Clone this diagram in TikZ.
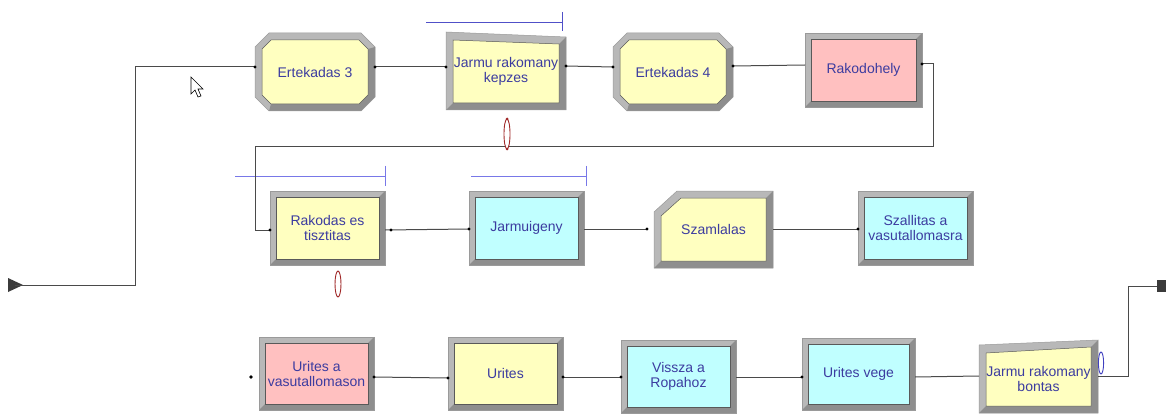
\documentclass[tikz,border=0pt]{standalone}
\usepackage{fontspec}
\setmainfont{Liberation Sans}
\usetikzlibrary{calc}
\definecolor{byellow}{HTML}{FFFFC0}
\definecolor{bpink}{HTML}{FFC0C0}
\definecolor{bcyan}{HTML}{C0FFFF}
\definecolor{txtblue}{HTML}{3C3CA0}
\definecolor{bevL}{HTML}{B8B8B8}
\definecolor{bevD}{HTML}{8E8E8E}
\definecolor{bevO}{HTML}{9A9A9A}
\definecolor{connc}{HTML}{4A4A4A}
\definecolor{qblue}{HTML}{5050C8}
\definecolor{qblueL}{HTML}{7878E8}
\definecolor{ovred}{HTML}{A02828}
\definecolor{ovblue}{HTML}{4040C0}
\tikzset{
 lbl/.style={inner sep=0pt, outer sep=0pt, align=center, text=txtblue, font=\fontsize{14}{15}\selectfont},
 conn/.style={draw=connc, line width=1pt},
 queue/.style={draw=qblue, line width=1pt},
 queueL/.style={draw=qblueL, line width=1pt},
 outline/.style={draw=bevO, line width=0.5pt},
 innerline/.style={draw=gray!70!black, line width=0.5pt},
}
% rectangle block: name x1 y1 x2 y2 fill text
\newcommand{\arRect}[7]{%
 \fill[bevL] (#2,#3) rectangle (#4,#5);
 \fill[bevD] (#2,#5) -- (#4,#5) -- (#4,#3) -- ({#4-6},{#3+6}) -- ({#4-6},{#5-6}) -- ({#2+6},{#5-6}) -- cycle;
 \draw[outline] (#2,#3) rectangle (#4,#5);
 \filldraw[fill=#6, innerline] ({#2+6},{#3+6}) rectangle ({#4-6},{#5-6});
 \node[lbl, minimum width={(#4-#2)*1pt}, minimum height={(#5-#3)*1pt}] (#1) at ({(#2+#4)/2},{(#3+#5)/2}) {#7};
}
% octagon block
\newcommand{\arOct}[7]{%
 \fill[bevL] ({#2+14},#3) -- ({#4-14},#3) -- (#4,{#3+14}) -- (#4,{#5-14}) -- ({#4-14},#5) -- ({#2+14},#5) -- (#2,{#5-14}) -- (#2,{#3+14}) -- cycle;
 \fill[bevD] (#4,{#3+14}) -- (#4,{#5-14}) -- ({#4-14},#5) -- ({#2+14},#5) -- ({#2+16},{#5-7}) -- ({#4-16},{#5-7}) -- ({#4-7},{#5-16}) -- ({#4-7},{#3+16}) -- cycle;
 \draw[outline] ({#2+14},#3) -- ({#4-14},#3) -- (#4,{#3+14}) -- (#4,{#5-14}) -- ({#4-14},#5) -- ({#2+14},#5) -- (#2,{#5-14}) -- (#2,{#3+14}) -- cycle;
 \filldraw[fill=#6, innerline] ({#2+16},{#3+7}) -- ({#4-16},{#3+7}) -- ({#4-7},{#3+16}) -- ({#4-7},{#5-16}) -- ({#4-16},{#5-7}) -- ({#2+16},{#5-7}) -- ({#2+7},{#5-16}) -- ({#2+7},{#3+16}) -- cycle;
 \node[lbl, minimum width={(#4-#2)*1pt}, minimum height={(#5-#3)*1pt}] (#1) at ({(#2+#4)/2},{(#3+#5)/2}) {#7};
}
% slanted-top block: name x1 y1left y1right x2 y2 fill text
\newcommand{\arQuad}[8]{%
 \fill[bevL] (#2,#3) -- (#5,#4) -- (#5,#6) -- (#2,#6) -- cycle;
 \fill[bevD] (#2,#6) -- (#5,#6) -- (#5,#4) -- ({#5-7},{#4+7}) -- ({#5-7},{#6-7}) -- ({#2+7},{#6-7}) -- cycle;
 \draw[outline] (#2,#3) -- (#5,#4) -- (#5,#6) -- (#2,#6) -- cycle;
 \filldraw[fill=#7, innerline] ({#2+7},{#3+8}) -- ({#5-7},{#4+7}) -- ({#5-7},{#6-7}) -- ({#2+7},{#6-7}) -- cycle;
 \node[lbl, minimum width={(#5-#2)*1pt}, minimum height={(#6-#3)*1pt}] (#1) at ({(#2+#5)/2},{(#3+#6)/2}) {#8};
}
\newcommand{\pdot}[1]{\fill[black] (#1) circle (1.7pt);}
\begin{document}
\begin{tikzpicture}[x=1pt,y=-1pt]
\useasboundingbox (0,0) rectangle (1166,414);
\fill[white] (0,0) rectangle (1166,414);

% ---------- row 1 ----------
\arOct{E3}{255}{33}{375}{111}{byellow}{Ertekadas 3}
\arQuad{JK}{446}{32}{37}{566}{110}{byellow}{Jarmu rakomany\\kepzes}
\arOct{E4}{613}{33}{733}{111}{byellow}{Ertekadas 4}
\arRect{RH}{805}{33}{922}{107}{bpink}{Rakodohely}

% ---------- row 2 ----------
\arRect{RT}{270}{191}{385}{265}{byellow}{Rakodas es\\tisztitas}
\arRect{JG}{469}{191}{584}{265}{bcyan}{Jarmuigeny}
% cut-corner block
\fill[bevL] (677,191) -- (773,191) -- (773,268) -- (654,268) -- (654,212) -- cycle;
\fill[bevD] (654,268) -- (773,268) -- (773,191) -- (766,198) -- (766,261) -- (661,261) -- cycle;
\draw[outline] (677,191) -- (773,191) -- (773,268) -- (654,268) -- (654,212) -- cycle;
\filldraw[fill=byellow, innerline] (681,198) -- (766,198) -- (766,261) -- (661,261) -- (661,216) -- cycle;
\node[lbl, minimum width=119pt, minimum height=77pt] (SZ) at (713.5,229.5) {Szamlalas};
\arRect{SV}{858}{191}{973}{265}{bcyan}{Szallitas a\\vasutallomasra}

% ---------- row 3 ----------
\arRect{UV}{259}{337}{374}{410}{bpink}{Urites a\\vasutallomason}
\arRect{UR}{448}{337}{563}{410}{byellow}{Urites}
\arRect{VR}{621}{340}{736}{413}{bcyan}{Vissza a\\Ropahoz}
\arRect{UG}{802}{338}{915}{410}{bcyan}{Urites vege}
\arQuad{JB}{979}{345}{340}{1098}{413}{byellow}{Jarmu rakomany\\bontas}

% ---------- queues ----------
\draw[queue] (426,23) -- (562,23);
\draw[queue] (562,12) -- (562,31);
\draw[queueL] (235,177) -- (385,177);
\draw[queueL] (385,166) -- (385,186);
\draw[queueL] (471,177) -- (586,177);
\draw[queueL] (586,166) -- (586,186);

% ---------- connectors ----------
\coordinate (start) at (15,285);
\fill[connc!80!black] (8,278) -- (23,285) -- (8,292) -- cycle;
\draw[conn] (start) -- (135,285) |- (E3.west |- 0,67);
\pdot{E3.west |- 0,67}

\draw[conn] (E3.east |- 0,67) -- (JK.west |- 0,67);
\pdot{E3.east |- 0,67} \pdot{JK.west |- 0,67}
\draw[conn] (JK.east |- 0,66) -- (E4.west |- 0,67);
\pdot{JK.east |- 0,66} \pdot{E4.west |- 0,67}
\draw[conn] (E4.east |- 0,66) -- (RH.west |- 0,65);
\pdot{E4.east |- 0,66}
\draw[conn] (RH.east |- 0,64) -- (933,64) |- (255,147) |- (RT.west |- 0,230);
\pdot{RH.east |- 0,64} \pdot{RT.west |- 0,230}

\draw[conn] (RT.east |- 0,230) -- (JG.west |- 0,229);
\pdot{391,230} \pdot{JG.west |- 0,229}
\draw[conn] (JG.east |- 0,229) -- (647,229);
\pdot{647,229}
\draw[conn] (SZ.east |- 0,229) -- (SV.west |- 0,229);
\pdot{SV.west |- 0,229}

\fill[black] (251,377) circle (1.8pt);
\draw[conn] (UV.east |- 0,377) -- (UR.west |- 0,378);
\pdot{UV.east |- 0,377} \pdot{UR.west |- 0,378}
\draw[conn] (UR.east |- 0,377) -- (VR.west |- 0,377);
\pdot{UR.east |- 0,377} \pdot{VR.west |- 0,377}
\draw[conn] (VR.east |- 0,377) -- (UG.west |- 0,377);
\pdot{UG.west |- 0,377}
\draw[conn] (UG.east |- 0,377) -- (JB.west |- 0,376);
\coordinate (endsq) at (1157,286);
\draw[conn] (JB.east |- 0,376) -- (1128,376) |- (endsq);
\fill[connc!80!black] (1157,280) rectangle (1166,292);

% ---------- resource ovals ----------
\filldraw[fill=white, draw=ovred, line width=0.9pt] (507,134) ellipse (3pt and 15pt);
\fill[ovred] (507,119) circle (1.5pt);
\fill[ovred] (507,149) circle (1.5pt);
\filldraw[fill=white, draw=ovred, line width=0.9pt] (338,284) ellipse (3pt and 13pt);
\filldraw[fill=white, draw=ovblue, line width=0.9pt] (1101,363) ellipse (2.6pt and 11pt);

% ---------- mouse cursor ----------
\filldraw[fill=white, draw=black, line width=0.6pt] (191,77) -- (191,94) -- (195,90) -- (198,97) -- (201,96) -- (198,89) -- (203,89) -- cycle;
\end{tikzpicture}
\end{document}
